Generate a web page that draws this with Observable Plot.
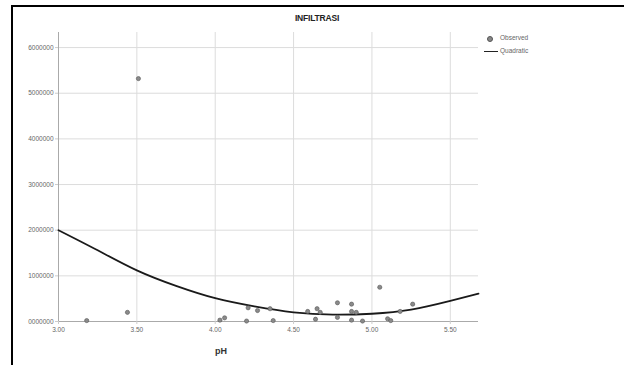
<!DOCTYPE html>
<html><head><meta charset="utf-8">
<script src="https://cdn.jsdelivr.net/npm/d3@7"></script>
<script src="https://cdn.jsdelivr.net/npm/@observablehq/plot@0.6"></script>
<style>
body{margin:0;background:#fff;font-family:Arial,"Liberation Sans",sans-serif;}
#wrap{position:relative;width:624px;height:365px;overflow:hidden;background:#fff}
#frameTop{position:absolute;left:11px;top:5px;right:0;height:2px;background:#000}
#frameLeft{position:absolute;left:11px;top:5px;width:2px;bottom:0;background:#000}
#chart{position:absolute;left:0;top:0}
#title{position:absolute;left:267px;width:100px;top:13px;text-align:center;font-weight:bold;font-size:8.5px;color:#222;letter-spacing:-0.2px}
#xlab{position:absolute;left:215px;top:346px;font-weight:bold;font-size:9px;color:#333}
#legend{position:absolute;left:484px;top:34px;font-size:6.5px;color:#666}
#legend .row{position:relative;height:13px;line-height:8px}
#legend .dot{position:absolute;left:3px;top:2px;width:4px;height:4px;border-radius:50%;background:#888;border:0.5px solid #555}
#legend .ln{position:absolute;left:0;top:3.5px;width:14px;height:1.6px;background:#222}
#legend .t{position:absolute;left:16px;top:0}
</style></head>
<body>
<div id="wrap">
  <div id="frameTop"></div><div id="frameLeft"></div>
  <div id="chart"></div>
  <div id="title">INFILTRASI</div>
  <div id="xlab">pH</div>
  <div id="legend">
    <div class="row"><div class="dot"></div><div class="t">Observed</div></div>
    <div class="row"><div class="ln"></div><div class="t">Quadratic</div></div>
  </div>
</div>
<script>
// Observed data (pH, infiltrasi)
const obsPH = [3.18, 3.44, 3.51, 4.03, 4.06, 4.20, 4.21, 4.27, 4.35, 4.37, 4.59, 4.64, 4.65, 4.67, 4.78, 4.78, 4.87, 4.87, 4.87, 4.90, 4.94, 5.05, 5.10, 5.12, 5.18, 5.26];
const obsInf = [20000, 200000, 5320000, 30000, 80000, 10000, 300000, 240000, 280000, 20000, 220000, 50000, 280000, 200000, 410000, 90000, 380000, 220000, 30000, 200000, 10000, 750000, 60000, 20000, 220000, 380000];
// Quadratic fit curve
const fitPH = [3.0, 3.25, 3.5, 3.75, 4.0, 4.25, 4.5, 4.75, 5.0, 5.25, 5.5, 5.68];
const fitInf = [2000000, 1560000, 1120000, 780000, 510000, 330000, 200000, 150000, 170000, 260000, 450000, 610000];
// Axis ticks
const xTicks = [3.0, 3.5, 4.0, 4.5, 5.0, 5.5];
const xTickLabels = ["3.00", "3.50", "4.00", "4.50", "5.00", "5.50"];
const yTicks = [0, 1000000, 2000000, 3000000, 4000000, 5000000, 6000000];
const yTickLabels = ["0000000", "1000000", "2000000", "3000000", "4000000", "5000000", "6000000"];

const obs = obsPH.map((x, i) => ({x, y: obsInf[i]}));
const fit = fitPH.map((x, i) => ({x, y: fitInf[i]}));

const chart = Plot.plot({
  width: 624, height: 365,
  marginLeft: 58, marginRight: 146, marginTop: 32, marginBottom: 44,
  style: {fontFamily: "Arial, 'Liberation Sans', sans-serif", fontSize: "6.5px", color: "#666", background: "transparent", overflow: "visible"},
  x: {domain: [3, 5.68]},
  y: {domain: [0, 6330000]},
  marks: [
    Plot.gridX(xTicks, {stroke: "#dcdcdc", strokeOpacity: 1, strokeWidth: 1}),
    Plot.gridY(yTicks, {stroke: "#dcdcdc", strokeOpacity: 1, strokeWidth: 1}),
    Plot.ruleX([3], {stroke: "#aaa"}),
    Plot.ruleY([0], {stroke: "#aaa"}),
    Plot.axisX(xTicks, {tickFormat: d => xTickLabels[xTicks.indexOf(d)], tickSize: 3, tickPadding: 3, stroke: "#ccc", label: null, fill: "#666"}),
    Plot.axisY(yTicks, {tickFormat: d => yTickLabels[yTicks.indexOf(d)], tickSize: 3, tickPadding: 2, stroke: "#ccc", label: null, fill: "#666"}),
    Plot.line(fit, {x: "x", y: "y", curve: "natural", stroke: "#1a1a1a", strokeWidth: 1.8}),
    Plot.dot(obs, {x: "x", y: "y", r: 2.1, fill: "#8a8a8a", stroke: "#555", strokeWidth: 0.6})
  ]
});
document.getElementById("chart").appendChild(chart);
</script>
</body></html>
